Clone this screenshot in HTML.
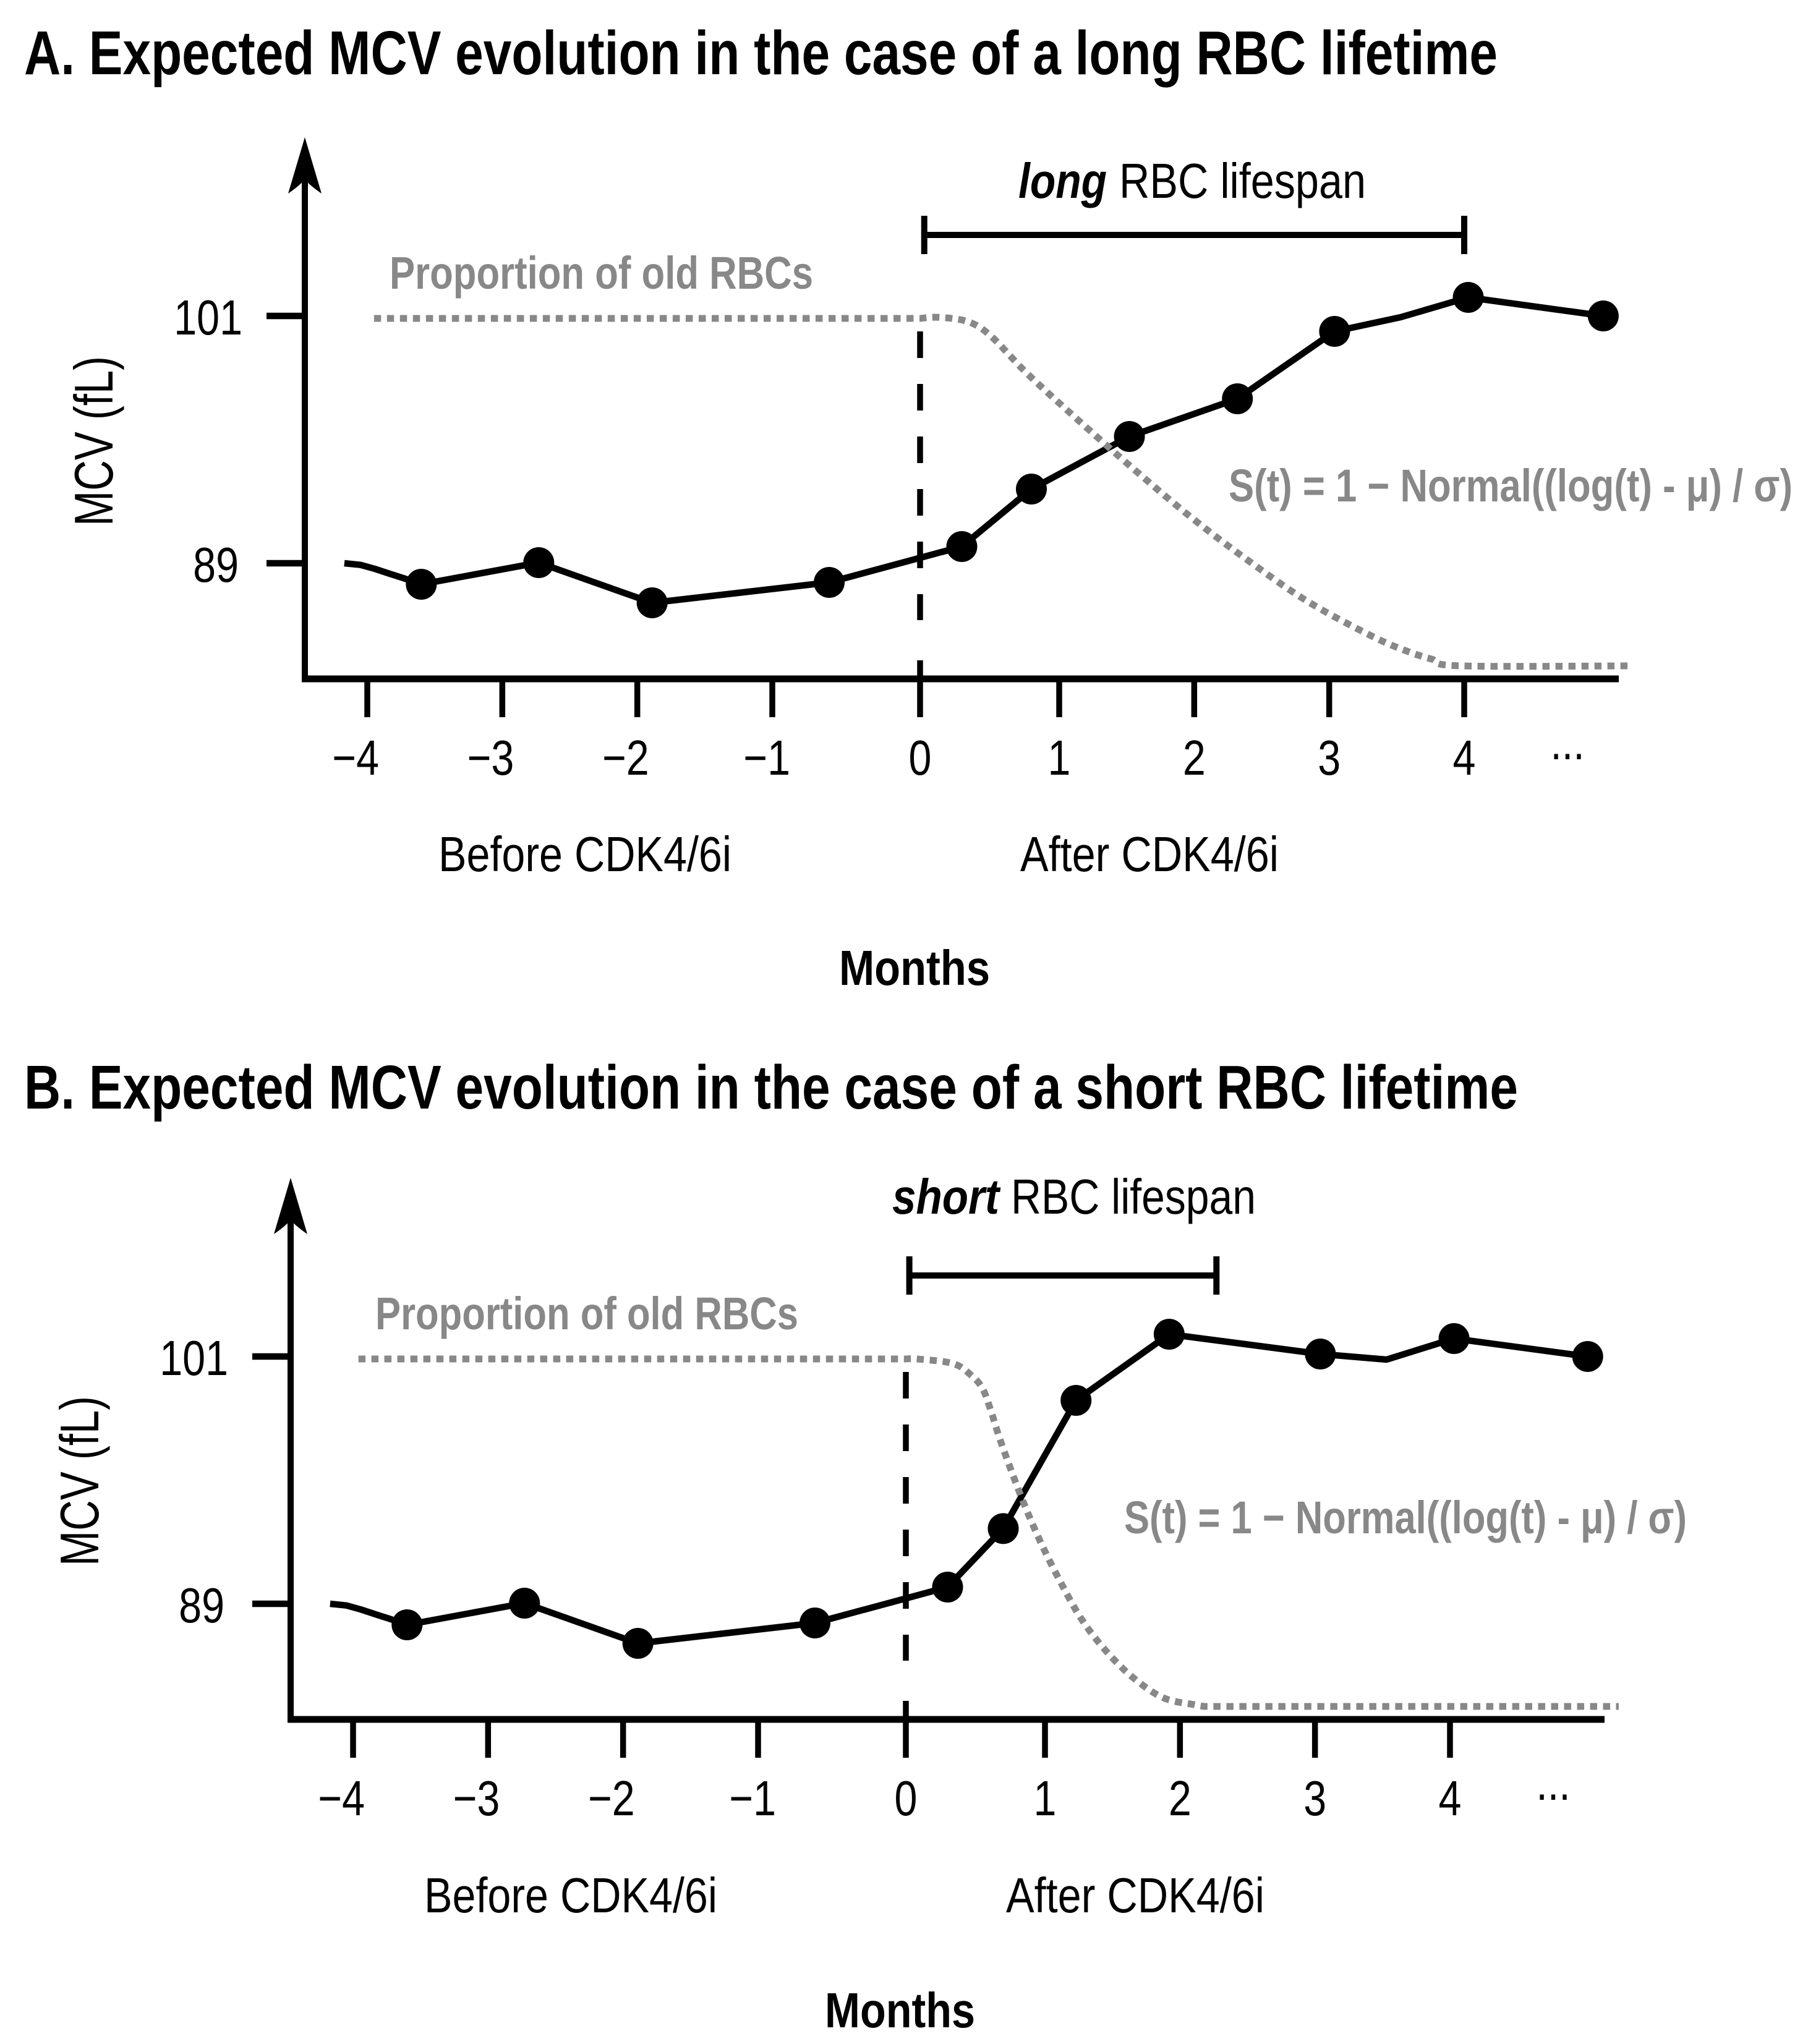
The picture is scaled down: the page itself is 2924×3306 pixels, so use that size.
<!DOCTYPE html>
<html lang="en">
<head>
<meta charset="utf-8">
<title>Expected MCV evolution</title>
<style>
html,body{margin:0;padding:0;background:#fff;width:2924px;height:3306px;overflow:hidden}
svg{display:block}
text{font-family:"Liberation Sans",sans-serif;fill:#000}
.b{font-weight:700}
.g{font-weight:700;fill:#888}
</style>
</head>
<body>
<svg id="chart" xmlns="http://www.w3.org/2000/svg" width="2924" height="3306" viewBox="0 0 2924 3306">
<rect width="2924" height="3306" fill="#fff"/>

<text class="b" x="39" y="120" font-size="100" textLength="2383" lengthAdjust="spacingAndGlyphs">A. Expected MCV evolution in the case of a long RBC lifetime</text>
<text class="b" x="1647" y="320" font-size="80" font-style="italic" textLength="143" lengthAdjust="spacingAndGlyphs">long</text>
<text x="1810" y="320" font-size="80" textLength="399" lengthAdjust="spacingAndGlyphs">RBC lifespan</text>
<text class="g" x="630" y="467" font-size="74" textLength="685" lengthAdjust="spacingAndGlyphs">Proportion of old RBCs</text>
<text class="g" x="1987" y="811" font-size="74" textLength="912" lengthAdjust="spacingAndGlyphs">S(t) = 1 − Normal((log(t) - μ) / σ)</text>
<text transform="translate(182,851) rotate(-90)" font-size="88" textLength="275" lengthAdjust="spacingAndGlyphs">MCV (fL)</text>
<text x="709" y="1409" font-size="80" textLength="474" lengthAdjust="spacingAndGlyphs">Before CDK4/6i</text>
<text x="1650" y="1409" font-size="80" textLength="418" lengthAdjust="spacingAndGlyphs">After CDK4/6i</text>
<text class="b" x="1357" y="1593" font-size="80" textLength="244" lengthAdjust="spacingAndGlyphs">Months</text>

<text class="b" x="39" y="1793" font-size="100" textLength="2416" lengthAdjust="spacingAndGlyphs">B. Expected MCV evolution in the case of a short RBC lifetime</text>
<text class="b" x="1443" y="1963" font-size="80" font-style="italic" textLength="173" lengthAdjust="spacingAndGlyphs">short</text>
<text x="1635" y="1963" font-size="80" textLength="396" lengthAdjust="spacingAndGlyphs">RBC lifespan</text>
<text class="g" x="607" y="2150" font-size="74" textLength="684" lengthAdjust="spacingAndGlyphs">Proportion of old RBCs</text>
<text class="g" x="1818" y="2480" font-size="74" textLength="910" lengthAdjust="spacingAndGlyphs">S(t) = 1 − Normal((log(t) - μ) / σ)</text>
<text transform="translate(159,2533) rotate(-90)" font-size="88" textLength="275" lengthAdjust="spacingAndGlyphs">MCV (fL)</text>
<text x="686" y="3093" font-size="80" textLength="474" lengthAdjust="spacingAndGlyphs">Before CDK4/6i</text>
<text x="1627" y="3093" font-size="80" textLength="418" lengthAdjust="spacingAndGlyphs">After CDK4/6i</text>
<text class="b" x="1334" y="3279" font-size="80" textLength="243" lengthAdjust="spacingAndGlyphs">Months</text>
</svg>

<script>
// Shared axis values
const monthTicks = [-4, -3, -2, -1, 0, 1, 2, 3, 4];
const monthTickLabels = ['−4', '−3', '−2', '−1', '0', '1', '2', '3', '4'];
const mcvTicks = [101, 89];
const mcvTickLabels = ['101', '89'];

// Panel A: long RBC lifespan
const panelAMonths = [-4.17, -4.05, -3.945, -3.82, -3.73, -3.6, -2.73, -1.89, -0.615, 0.30, 0.80, 1.52, 2.32, 3.04, 3.53, 4.03, 5.03];
const panelAMcv = [89, 88.92, 88.73, 88.46, 88.27, 87.98, 89.03, 87.08, 88.07, 89.81, 92.6, 95.15, 96.98, 100.25, 100.94, 101.9, 101.0];
const panelASurvivalMonths = [-3.95, 0, 0.133, 0.342, 0.507, 0.773, 1.133, 1.559, 1.985, 2.411, 2.842, 3.309, 3.565, 3.758, 3.973, 5.25];
const panelASurvival = [1, 1, 1.003, 0.991, 0.95, 0.84, 0.71, 0.564, 0.425, 0.30, 0.185, 0.087, 0.044, 0.0196, 0, 0];
const panelALifespan = [0.03, 4];

// Panel B: short RBC lifespan
const panelBMonths = [-4.17, -4.05, -3.945, -3.82, -3.73, -3.6, -2.73, -1.89, -0.615, 0.30, 0.70, 1.23, 1.92, 3.04, 3.53, 4.03, 5.02];
const panelBMcv = [89, 88.92, 88.73, 88.46, 88.27, 87.98, 89.03, 87.08, 88.07, 89.81, 92.65, 98.87, 102.08, 101.12, 100.85, 101.87, 101.0];
const panelBSurvivalMonths = [-3.96, 0, 0.08, 0.338, 0.467, 0.551, 0.613, 0.676, 0.778, 0.871, 0.982, 1.115, 1.266, 1.44, 1.646, 1.875, 2.105, 2.18, 5.25];
const panelBSurvival = [1, 1, 1, 0.987, 0.954, 0.915, 0.849, 0.769, 0.657, 0.562, 0.461, 0.358, 0.254, 0.165, 0.085, 0.025, 0.005, 0, 0];
const panelBLifespan = [0.025, 2.27];

// Vertices of the line that carry no dot
const unmarkedVertices = [0, 1, 2, 3, 4, 14];

const NS = 'http://www.w3.org/2000/svg';
const svg = document.getElementById('chart');

function make(tag, attrs) {
  const el = document.createElementNS(NS, tag);
  for (const k in attrs) el.setAttribute(k, attrs[k]);
  return el;
}

// The month axis is hand-drawn: the ticks around zero are spaced unevenly.
const axisDomain = [-4, -1, 0, 1, 4];
const axisRange = [594, 1249, 1488, 1713, 2368];
function xScale(m, dx) {
  let i = 0;
  if (m >= axisDomain[3]) i = 3;
  else if (m >= axisDomain[2]) i = 2;
  else if (m >= axisDomain[1]) i = 1;
  const t = (m - axisDomain[i]) / (axisDomain[i + 1] - axisDomain[i]);
  return axisRange[i] + t * (axisRange[i + 1] - axisRange[i]) + dx;
}
function yMcv(v, dy) { return 911 - (v - 89) * 400 / 12 + dy; }
function ySurvival(p, dy) { return 1077 - p * 562 + dy; }

function smoothPath(pts) {
  let d = 'M' + pts[0][0].toFixed(1) + ' ' + pts[0][1].toFixed(1);
  for (let i = 0; i < pts.length - 1; i++) {
    const p1 = pts[i], p2 = pts[i + 1];
    let p0 = pts[Math.max(i - 1, 0)], p3 = pts[Math.min(i + 2, pts.length - 1)];
    // long flat runs must not stretch the tangents of their neighbours
    if (p1[0] - p0[0] > 300) p0 = p1;
    if (p3[0] - p2[0] > 300) p3 = p2;
    const k = p2[0] - p1[0] > 300 ? 0 : 1 / 6;
    const c1x = p1[0] + (p2[0] - p0[0]) * k, c1y = p1[1] + (p2[1] - p0[1]) * k;
    const c2x = p2[0] - (p3[0] - p1[0]) * k, c2y = p2[1] - (p3[1] - p1[1]) * k;
    d += 'C' + [c1x, c1y, c2x, c2y, p2[0], p2[1]].map(n => n.toFixed(1)).join(' ');
  }
  return d;
}

function drawPanel(prefix, dx, dy, months, mcv, survMonths, surv, lifespan) {
  const g = make('g', {});
  
  
  svg.appendChild(g);

  // y axis + arrow
  const yAxis = make('line', { x1: 493 + dx, x2: 493 + dx, y1: 290 + dy, y2: 1103 + dy, stroke: '#000', 'stroke-width': 10 });
  
  
  g.appendChild(yAxis);
  const arrow = make('path', { d: `M${493 + dx} ${222 + dy}L${520 + dx} ${313 + dy}Q${501 + dx} ${300 + dy} ${493 + dx} ${290 + dy}Q${485 + dx} ${300 + dy} ${466 + dx} ${313 + dy}Z`, fill: '#000' });
  
  
  g.appendChild(arrow);

  // x axis
  const xAxis = make('line', { x1: 488 + dx, x2: 2618 + dx, y1: 1098 + dy, y2: 1098 + dy, stroke: '#000', 'stroke-width': 11 });
  
  
  g.appendChild(xAxis);

  // x ticks and labels
  monthTicks.forEach((m, i) => {
    const x = xScale(m, dx);
    const tick = make('line', { x1: x, x2: x, y1: (m === 0 ? 1068 : 1098) + dy, y2: 1160 + dy, stroke: '#000', 'stroke-width': 9.5 });
    
    
    g.appendChild(tick);
    const lx = m < 0 ? x + (m === -1 ? 29 : 19) : x;
    const label = make('text', { transform: `translate(${lx},${1253 + dy}) scale(.83,1)`, 'font-size': 80, 'text-anchor': m < 0 ? 'end' : 'middle' });
    
    
    label.textContent = monthTickLabels[i];
    g.appendChild(label);
  });
  const more = make('text', { transform: `translate(${2535 + dx},${1228 + dy}) scale(.83,1)`, 'font-size': 80, 'text-anchor': 'middle' });
  
  
  more.textContent = '...';
  g.appendChild(more);

  // y ticks and labels
  mcvTicks.forEach((v, i) => {
    const y = yMcv(v, dy);
    const tick = make('line', { x1: 431 + dx, x2: 493 + dx, y1: y, y2: y, stroke: '#000', 'stroke-width': 10.5 });
    
    
    g.appendChild(tick);
    const labelRight = (String(v).length === 2 ? 386 : 392) + dx;
    const label = make('text', { transform: `translate(${labelRight},${y + 30}) scale(.83,1)`, 'font-size': 80, 'text-anchor': 'end' });
    
    
    label.textContent = mcvTickLabels[i];
    g.appendChild(label);
  });

  // treatment-start dashed line
  const x0 = xScale(0, dx);
  const start = make('line', { x1: x0, x2: x0, y1: 536 + dy, y2: 1003 + dy, stroke: '#000', 'stroke-width': 9.5, 'stroke-dasharray': '43 42' });
  
  
  g.appendChild(start);

  // lifespan bracket
  const bx0 = xScale(lifespan[0], dx), bx1 = xScale(lifespan[1], dx);
  const bracket = make('path', { d: `M${bx0} ${349 + dy}V${411 + dy}M${bx0} ${380 + dy}H${bx1}M${bx1} ${349 + dy}V${411 + dy}`, fill: 'none', stroke: '#000', 'stroke-width': 10 });
  
  
  g.appendChild(bracket);

  // MCV line
  const pts = months.map((m, i) => [xScale(m, dx), yMcv(mcv[i], dy)]);
  const line = make('polyline', { points: pts.map(p => p[0].toFixed(1) + ',' + p[1].toFixed(1)).join(' '), fill: 'none', stroke: '#000', 'stroke-width': 10.5, 'stroke-linejoin': 'round' });
  
  
  g.appendChild(line);

  // Survival curve
  const curvePts = survMonths.map((m, i) => [xScale(m, dx), ySurvival(surv[i], dy)]);
  const curve = make('path', { d: smoothPath(curvePts), fill: 'none', stroke: '#888', 'stroke-width': 11, 'stroke-dasharray': '11.5 9.5' });
  
  
  g.appendChild(curve);

  // MCV dots
  pts.forEach((p, i) => {
    if (unmarkedVertices.includes(i)) return;
    const dot = make('circle', { cx: p[0], cy: p[1], r: 25, fill: '#000' });
    
    
    g.appendChild(dot);
  });
}

drawPanel('panel-a', 0, 0, panelAMonths, panelAMcv, panelASurvivalMonths, panelASurvival, panelALifespan);
drawPanel('panel-b', -23, 1683, panelBMonths, panelBMcv, panelBSurvivalMonths, panelBSurvival, panelBLifespan);
</script>
</body>
</html>
